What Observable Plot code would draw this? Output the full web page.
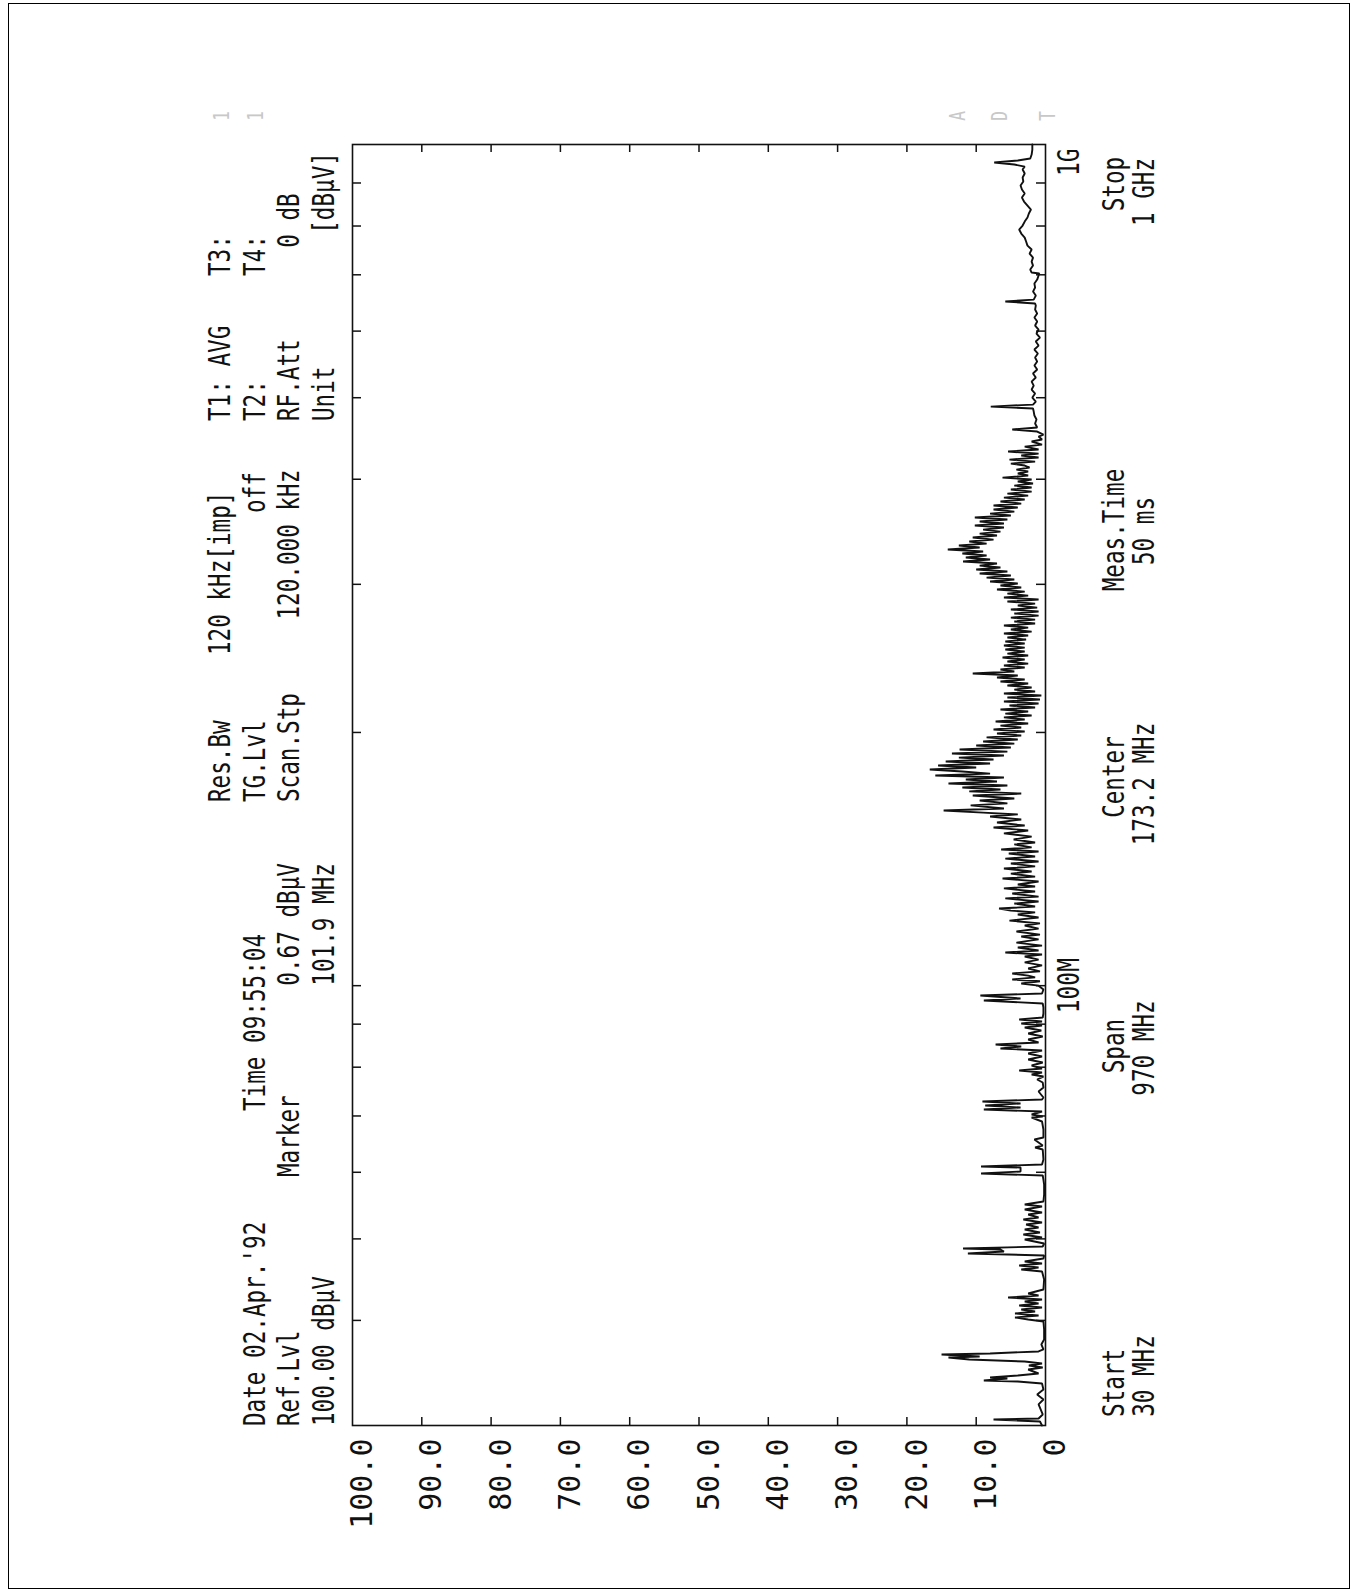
<!DOCTYPE html>
<html><head><meta charset="utf-8">
<script src="https://cdn.jsdelivr.net/npm/d3@7"></script>
<script src="https://cdn.jsdelivr.net/npm/@observablehq/plot@0.6"></script>
<style>
html,body{margin:0;padding:0;background:#fff;}
body{width:1356px;height:1592px;position:relative;overflow:hidden;}
#border{position:absolute;left:8px;top:3px;width:1342px;height:1586px;border:1.5px solid #000;box-sizing:border-box;}
#rot{position:absolute;left:0;top:0;width:1592px;height:1356px;transform-origin:0 0;transform:translate(0,1592px) rotate(-90deg);}
#rot svg{position:absolute;left:0;top:0;}
.lbl{position:absolute;white-space:pre;font-family:"DejaVu Sans Mono",monospace;font-size:31px;line-height:31px;color:#111;}
.faint{position:absolute;white-space:pre;font-family:"DejaVu Sans Mono",monospace;font-size:22px;line-height:22px;color:#c8c8c8;}
</style></head><body>
<div id="border"></div>
<div id="rot"></div>
<script>
// ---- data (frequency in MHz, level in dBµV) ----
const levelTicks = [0, 10, 20, 30, 40, 50, 60, 70, 80, 90, 100];
const freqTicks = [40, 50, 60, 70, 80, 90, 100, 200, 300, 400, 500, 600, 700, 800, 900];
const freqLabelValues = [100, 1000];
const freqLabelTexts = ["100M", "1G"];

const traceLow = [[30.00,0.5],[30.33,0.8],[30.50,7.5],[30.58,1.0],[30.92,0.4],[31.78,1.0],[32.21,0.3],[32.66,1.2],[33.11,0.3],[33.66,0.5],[33.84,4.0],[33.93,8.9],[34.12,5.5],[34.21,8.0],[34.40,4.0],[34.59,1.0],[34.97,2.5],[35.16,0.4],[35.35,2.4],[35.55,0.5],[35.74,3.0],[35.94,11.0],[36.14,14.0],[36.24,9.5],[36.44,15.0],[36.54,8.0],[36.74,1.0],[36.94,0.3],[37.45,0.6],[37.96,0.2],[39.02,0.2],[39.88,0.3],[40.10,2.5],[40.32,4.4],[40.54,1.0],[40.76,4.4],[40.99,1.5],[41.21,3.5],[41.44,0.5],[41.67,3.8],[41.89,1.0],[42.12,3.0],[42.36,0.5],[42.59,5.4],[42.82,1.0],[43.06,2.5],[43.53,0.3],[44.74,0.2],[45.73,0.5],[45.98,3.5],[46.23,1.0],[46.49,3.8],[46.74,0.5],[47.00,3.0],[47.39,0.3],[47.78,0.2],[48.04,11.2],[48.30,6.0],[48.57,6.5],[48.70,11.9],[48.97,0.4],[49.37,0.2],[49.92,3.0],[50.19,0.5],[50.61,3.2],[50.88,0.8],[51.30,3.0],[51.58,1.0],[52.01,2.8],[52.29,0.5],[52.72,3.2],[53.01,1.0],[53.45,2.5],[53.74,0.5],[54.19,3.0],[54.63,0.5],[54.93,3.0],[55.39,0.3],[56.46,0.2],[58.02,0.2],[58.82,0.3],[59.47,0.4],[59.80,9.3],[60.13,3.6],[60.79,3.6],[60.95,9.3],[61.29,0.5],[62.13,0.3],[63.86,0.4],[64.21,1.5],[64.56,0.4],[65.63,1.6],[65.99,0.3],[67.45,0.3],[68.95,0.5],[69.70,2.0],[69.90,0.4],[70.28,2.0],[70.86,0.5],[71.25,8.9],[71.64,3.6],[72.03,8.7],[72.43,3.6],[72.83,9.1],[73.23,0.5],[73.63,0.3],[74.85,1.0],[75.67,0.3],[76.71,0.4],[77.35,1.2],[77.98,0.3],[78.41,2.0],[78.84,0.5],[79.27,3.8],[79.71,0.5],[80.37,2.0],[81.03,0.4],[81.70,2.5],[82.37,0.5],[83.05,2.5],[83.74,0.5],[84.20,6.5],[84.66,3.5],[85.12,7.2],[85.59,1.0],[86.30,2.5],[87.01,0.4],[87.73,2.5],[88.45,0.6],[89.18,3.0],[89.67,0.5],[90.16,3.5],[90.66,0.5],[91.15,3.8],[91.65,0.4],[92.66,0.3],[94.20,0.3],[95.23,0.4],[96.02,8.9],[96.55,3.6],[97.34,9.4],[97.88,0.5],[98.95,0.3]];

const traceMid = [[100.0,1.0],[100.6,3.5],[101.2,0.8],[101.7,4.8],[102.3,1.5],[102.8,2.5],[103.4,4.8],[104.0,0.8],[104.8,2.5],[105.7,0.5],[106.6,3.0],[107.4,1.0],[108.3,3.0],[108.9,0.5],[109.5,5.8],[110.1,1.0],[111.0,4.0],[111.6,0.5],[112.5,4.2],[113.5,1.0],[114.4,3.5],[115.0,0.8],[116.0,4.2],[116.9,1.0],[117.9,3.0],[118.6,0.8],[119.5,5.2],[120.5,1.0],[121.5,4.0],[122.2,1.5],[122.8,5.0],[123.5,6.7],[124.2,1.5],[125.2,4.5],[125.9,1.0],[127.0,5.8],[127.6,1.0],[128.7,4.8],[129.4,1.5],[130.5,6.0],[131.2,1.5],[131.9,4.0],[133.0,1.0],[134.1,6.2],[134.8,1.5],[135.9,5.0],[136.7,2.0],[137.8,6.0],[138.6,1.5],[139.7,5.0],[140.5,1.0],[141.6,5.8],[142.4,1.5],[143.6,5.3],[144.4,1.0],[145.2,6.4],[146.0,2.0],[147.2,4.5],[148.0,1.5],[149.2,4.6],[150.4,2.0],[151.7,6.0],[152.9,2.5],[154.2,7.5],[155.0,3.0],[156.3,7.0],[157.6,3.5],[158.9,8.0],[159.8,4.0],[160.6,9.0],[161.5,14.7],[162.4,6.0],[163.8,10.8],[164.7,5.5],[166.0,9.5],[166.9,4.5],[168.3,10.5],[169.2,3.5],[170.2,11.0],[171.1,6.5],[172.0,12.0],[173.0,5.5],[173.9,14.0],[174.9,7.0],[175.8,11.5],[176.8,6.0],[177.8,15.9],[178.7,8.0],[179.7,12.0],[180.7,16.7],[181.7,10.0],[182.7,15.5],[183.7,8.0],[184.7,14.4],[185.7,7.5],[186.7,12.5],[187.8,6.0],[188.8,13.5],[189.8,5.5],[190.9,12.4],[191.9,5.0],[193.0,10.0],[194.0,4.5],[195.1,9.0],[196.2,4.0],[197.3,8.5],[198.3,3.5],[199.4,7.0],[200.5,3.0],[201.6,7.5],[202.7,3.5],[203.8,6.5],[205.0,2.5],[206.1,7.2],[207.2,3.0],[208.4,6.0],[209.5,2.0],[210.6,5.8],[211.8,2.5],[213.0,6.5],[214.1,1.5],[215.3,5.2],[216.5,1.0],[217.7,6.0],[218.9,0.8],[220.1,5.5],[221.3,0.6],[222.5,6.0],[223.7,1.5],[224.9,4.5],[226.2,2.0],[227.4,5.5],[228.7,2.5],[229.9,6.5],[231.2,3.0],[232.5,7.0],[233.7,4.0],[235.0,10.5],[236.3,4.5],[237.6,6.5],[238.9,3.0],[240.2,6.0],[241.5,2.5],[242.9,5.5],[244.2,3.0],[245.5,6.2],[246.9,2.5],[248.2,5.5],[249.6,3.0],[251.0,5.8],[252.3,3.0],[253.7,6.0],[255.1,3.0],[256.5,5.8],[257.9,2.8],[259.4,5.5],[260.8,2.5],[262.2,6.0],[263.6,2.0],[265.1,5.0],[266.5,2.5],[268.0,6.0],[269.5,1.5],[271.0,4.5],[272.4,1.5],[273.9,5.0],[275.4,1.0],[277.0,4.5],[278.5,1.0],[280.0,5.0],[281.5,1.2],[283.1,4.0],[284.6,1.5],[286.2,5.5],[287.8,1.0],[289.4,6.0],[290.9,2.5],[292.5,5.5],[294.1,3.0],[295.8,7.0],[297.4,3.5],[299.0,6.5]];

const traceHigh = [[300.7,4.0],[302.3,8.0],[304.0,4.5],[305.6,8.5],[307.3,5.0],[309.0,9.5],[310.7,5.5],[312.4,10.0],[314.1,6.5],[315.8,9.5],[317.6,7.0],[319.3,11.9],[321.1,8.0],[322.8,11.5],[324.6,8.5],[326.4,12.0],[328.2,9.0],[330.0,14.1],[331.8,9.5],[333.6,12.5],[335.4,8.5],[337.3,11.0],[339.1,7.5],[341.0,10.5],[342.9,7.0],[344.7,9.5],[346.6,6.5],[348.5,9.0],[350.5,6.0],[352.4,10.2],[354.3,6.0],[356.3,9.5],[358.2,5.5],[360.2,10.2],[362.2,5.0],[364.1,8.0],[366.1,4.5],[368.2,7.5],[370.2,4.0],[372.2,7.5],[374.2,3.5],[376.3,6.5],[378.4,3.0],[380.4,6.0],[382.5,2.5],[384.6,5.5],[386.7,2.0],[388.9,5.0],[391.0,2.0],[393.1,4.5],[395.3,1.8],[397.5,4.0],[399.7,2.0],[401.8,6.2],[404.1,2.5],[406.3,4.0],[408.5,2.5],[410.7,4.2],[413.0,2.3],[415.3,3.0],[417.5,5.0],[419.8,1.5],[422.1,5.2],[424.5,1.0],[426.8,3.5],[429.1,1.0],[431.5,5.4],[433.9,1.0],[437.4,3.0],[439.8,0.5],[443.5,2.0],[445.9,0.5],[449.6,1.0],[452.0,0.3],[455.8,1.2],[458.3,4.8],[460.8,1.2],[465.9,1.5],[471.0,1.3],[476.2,1.6],[481.4,1.7],[485.4,1.8],[488.0,7.9],[490.7,1.8],[494.8,1.4],[500.2,1.9],[505.7,1.5],[511.3,2.0],[516.9,1.7],[522.6,2.0],[528.4,1.4],[534.2,1.8],[540.1,1.2],[546.0,1.6],[552.0,1.2],[558.1,1.5],[564.3,1.1],[570.5,1.6],[576.7,1.0],[583.1,1.4],[589.5,0.8],[596.0,1.3],[602.6,1.0],[609.2,1.5],[615.9,1.2],[622.7,1.6],[629.5,1.2],[636.5,1.5],[643.5,1.4],[647.0,1.5],[650.6,5.8],[654.1,1.7],[661.3,1.4],[668.6,1.8],[676.0,1.5],[683.4,1.6],[690.9,1.2],[698.6,1.0],[702.4,0.9],[704.3,2.0],[710.1,2.2],[717.9,1.8],[725.8,2.0],[733.8,1.8],[741.9,2.3],[750.1,2.0],[758.3,2.6],[766.7,2.8],[775.1,3.0],[783.7,3.5],[792.3,3.8],[801.0,3.3],[809.8,3.0],[818.8,2.6],[827.8,2.4],[836.9,2.1],[846.1,2.6],[855.4,3.1],[864.8,3.4],[874.4,3.0],[884.0,3.4],[893.7,3.6],[903.6,3.2],[913.5,3.3],[923.6,3.0],[933.7,3.3],[941.4,3.0],[946.6,4.5],[951.8,7.4],[957.0,4.0],[962.3,2.2],[972.9,2.0],[986.3,1.9],[1000,1.9]];

// header / footer text of the analyzer printout
const headerTexts = [
  ["Res.Bw", "120 kHz[imp]", "T1: AVG", "T3:"],
  ["Date 02.Apr.'92", "Time 09:55:04", "TG.Lvl", "off", "T2:", "T4:"],
  ["Ref.Lvl", "Marker", "0.67 dBµV", "Scan.Stp", "120.000 kHz", "RF.Att", "0 dB"],
  ["100.00 dBµV", "101.9 MHz", "Unit", "[dBµV]"]
];
const footerTexts = [
  ["Start", "Span", "Center", "Meas.Time", "Stop"],
  ["30 MHz", "970 MHz", "173.2 MHz", "50 ms", "1 GHz"]
];
const faintTexts = ["1", "1", "A", "D", "T"];

// ---- layout (unrotated coordinates; the whole sheet is turned 90° CCW) ----
const W = 1592, H = 1356;
const F = {left: 166, right: 1447, top: 352, bottom: 1045};
const plotW = F.right - F.left, plotH = F.bottom - F.top;
const headerRowY = [219, 254, 288, 323];
const headerPos = [
  [[790,"s"],[937,"s"],[1171,"s"],[1316,"s"]],
  [[166,"s"],[481,"s"],[790,"s"],[1120,"e"],[1171,"s"],[1316,"s"]],
  [[166,"s"],[415,"s"],[729,"e"],[790,"s"],[1122,"e"],[1171,"s"],[1399,"e"]],
  [[166,"s"],[729,"e"],[1171,"s"],[1440,"e"]]
];
const footerRowY = [1113, 1143];
const footerPos = [[209, 546, 815, 1062, 1408], [216, 544, 808, 1061, 1400]];
const faintPos = [[1476, 222], [1476, 256], [1476, 958], [1476, 1000], [1476, 1048]];

const trace = [...traceLow, ...traceMid, ...traceHigh].map(([f, db]) => ({f, db}));

const svg = Plot.plot({
  width: W, height: H,
  marginLeft: F.left, marginRight: W - F.right, marginTop: F.top, marginBottom: H - F.bottom,
  x: {type: "log", domain: [30, 1000], label: null},
  y: {domain: [0, 100], label: null},
  style: {background: "transparent", fontFamily: "'DejaVu Sans Mono', monospace", fontSize: "30px", color: "#111", overflow: "visible"},
  marks: [
    Plot.tickY(levelTicks.slice(1, -1), {y: d => d, insetRight: plotW - 9, stroke: "#111", strokeWidth: 1.5}),
    Plot.tickY(levelTicks.slice(1, -1), {y: d => d, insetLeft: plotW - 7, stroke: "#111", strokeWidth: 1.5}),
    Plot.tickX(freqTicks, {x: d => d, insetBottom: plotH - 9, stroke: "#111", strokeWidth: 1.5}),
    Plot.tickX(freqTicks, {x: d => d, insetTop: plotH - 9, stroke: "#111", strokeWidth: 1.5}),
    Plot.axisY(levelTicks, {tickSize: 0, tickPadding: 13, dy: 10, fontSize: 30, label: null,
      tickFormat: d => d === 0 ? "0" : d.toFixed(1)}),
    Plot.axisX([freqLabelValues[0]], {anchor: "bottom", tickSize: 0, tickPadding: 11, fontSize: 31, label: null,
      tickFormat: d => freqLabelTexts[freqLabelValues.indexOf(d)]}),
    Plot.axisX([freqLabelValues[1]], {anchor: "bottom", tickSize: 0, tickPadding: 11, fontSize: 31, label: null, textAnchor: "end", dx: -4,
      tickFormat: d => freqLabelTexts[freqLabelValues.indexOf(d)]}),
    Plot.line(trace, {x: "f", y: "db", stroke: "#111", strokeWidth: 1.9, strokeLinejoin: "miter"}),
    Plot.frame({stroke: "#111", strokeWidth: 1.6})
  ]
});

// condense the frequency-axis labels like the plotter font
svg.querySelectorAll('g[aria-label="x-axis tick label"] text').forEach(t => {
  const tr = t.getAttribute("transform");
  if (tr) t.setAttribute("transform", tr + " scale(0.74,1)");
});

const rot = document.getElementById("rot");
rot.appendChild(svg);

const SX = 0.73;
function addLabel(text, x, yc, anchor, cls = "lbl", half = 15) {
  const s = document.createElement("div");
  s.className = cls;
  s.textContent = text;
  s.style.top = (yc - half) + "px";
  if (anchor === "s") {
    s.style.left = x + "px";
    s.style.transformOrigin = "0 50%";
    s.style.transform = `scaleX(${SX})`;
  } else if (anchor === "e") {
    s.style.right = (W - x) + "px";
    s.style.transformOrigin = "100% 50%";
    s.style.transform = `scaleX(${SX})`;
  } else {
    s.style.left = x + "px";
    s.style.transform = `translateX(-50%) scaleX(${SX})`;
  }
  rot.appendChild(s);
}
headerTexts.forEach((row, r) => row.forEach((t, i) => addLabel(t, headerPos[r][i][0], headerRowY[r], headerPos[r][i][1])));
footerTexts.forEach((row, r) => row.forEach((t, i) => addLabel(t, footerPos[r][i], footerRowY[r], "c")));
faintTexts.forEach((t, i) => addLabel(t, faintPos[i][0], faintPos[i][1], "c", "faint", 11));
</script></body></html>
